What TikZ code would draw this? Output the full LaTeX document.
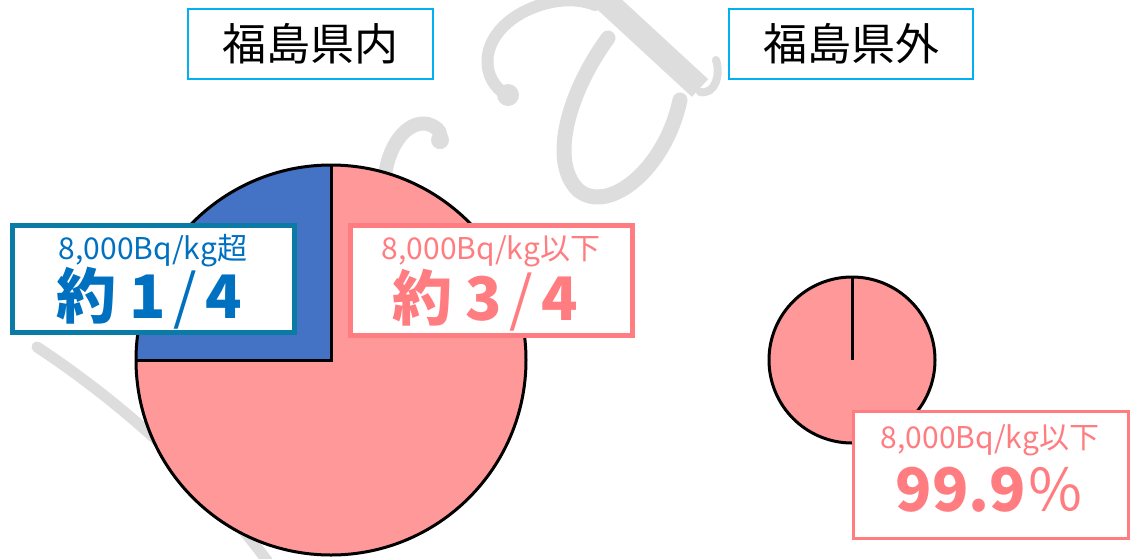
\documentclass[tikz,border=0pt]{standalone}
\usepackage{fontspec}
\newfontfamily\jp{Noto Sans CJK JP}
\definecolor{pinkfill}{HTML}{FF9999}
\definecolor{bluefill}{HTML}{4472C4}
\definecolor{titleborder}{HTML}{00B0F0}
\definecolor{blueborder}{HTML}{0A7BA5}
\definecolor{bluetext}{HTML}{0070C0}
\definecolor{pinktext}{HTML}{FF7C80}
\definecolor{wmgray}{HTML}{DDDDDD}
\newcommand{\bigfrac}[1]{{\bfseries 約}\hspace{13pt}{\bfseries #1}\hspace{8pt}/\hspace{8pt}{\bfseries 4}}
\tikzset{
  titlebox/.style={draw=titleborder, line width=2pt, fill=white},
  labelbox/.style={fill=white},
  titletext/.style={font=\jp\fontsize{44}{50}\selectfont, text=black, inner sep=0pt},
  smalltext/.style={font=\jp\fontsize{30}{34}\selectfont, inner sep=0pt},
  bigtext/.style={font=\jp\fontsize{60}{64}\selectfont, inner sep=0pt},
  pieline/.style={draw=black, line width=3pt},
  wm/.style={draw=wmgray, line cap=round}
}
\begin{document}
\begin{tikzpicture}[x=1pt,y=-1pt]
\useasboundingbox (0,0) rectangle (1130,558);
\fill[white] (0,0) rectangle (1130,558);
\clip (0,0) rectangle (1130,558);
% watermark
\draw[wm, line width=11pt] (37,347) .. controls (110,395) and (200,470) .. (268,562);
\draw[wm, line width=14pt] (385,175) .. controls (390,140) and (410,120) .. (428,124) .. controls (440,128) and (442,134) .. (440,142);
\fill[wmgray] (440,140) circle (9pt);
\draw[wm, line width=12pt] (508,96) .. controls (480,80) and (478,40) .. (518,15) .. controls (540,2) and (570,-5) .. (595,5);
\fill[wmgray] (508,95) circle (11pt);
\draw[wm, line width=24pt, line cap=butt] (596,-8) -- (700,88);
\draw[wm, line width=8pt] (700,92) .. controls (715,95) and (721,75) .. (716,60);
\draw[wm, line width=15pt] (608,38) .. controls (570,90) and (548,160) .. (578,190) .. controls (608,215) and (665,170) .. (680,100);
% big pie
\coordinate (c1) at (331,360);
\fill[pinkfill] (c1) circle (195pt);
\fill[bluefill] (c1) -- ++(-195pt,0pt) arc[start angle=180, end angle=90, radius=195pt] -- cycle;
\draw[pieline] (c1) circle (195pt);
\draw[pieline] (c1) ++(-195pt,0pt) -- (c1) -- ++(0pt,195pt);
% small pie
\coordinate (c2) at (852,360);
\fill[pinkfill] (c2) circle (83pt);
\draw[pieline] (c2) circle (83pt);
\draw[pieline] (c2) -- ++(0pt,83pt);
% titles
\draw[titlebox] (188,9) rectangle (433,79);
\node[titletext] (t1) at (310,44) {福島県内};
\draw[titlebox] (729,9) rectangle (973,79);
\node[titletext] (t2) at (851,44) {福島県外};
% label boxes
\draw[labelbox, draw=blueborder, line width=5pt] (12.5,225.5) rectangle (294.5,332.5);
\node[smalltext, text=bluetext] (l1a) at (153,251) {8,000Bq/kg超};
\node[bigtext, text=bluetext] (l1b) at (149,298) {\bigfrac{1}};
\draw[labelbox, draw=pinktext, line width=4.5pt] (350.5,225.5) rectangle (632.5,335.5);
\node[smalltext, text=pinktext] (l2a) at (491,251) {8,000Bq/kg以下};
\node[bigtext, text=pinktext] (l2b) at (485,300) {\bigfrac{3}};
\draw[labelbox, draw=pinktext, line width=3pt] (853.5,411.5) rectangle (1128.5,538.5);
\node[smalltext, text=pinktext] (l3a) at (990,440) {8,000Bq/kg以下};
\node[inner sep=0pt, text=pinktext] (l3b) at (990,490) {{\jp\bfseries\fontsize{60}{64}\selectfont 99.9}{\jp\fontsize{58}{62}\selectfont ％}};
\end{tikzpicture}
\end{document}
